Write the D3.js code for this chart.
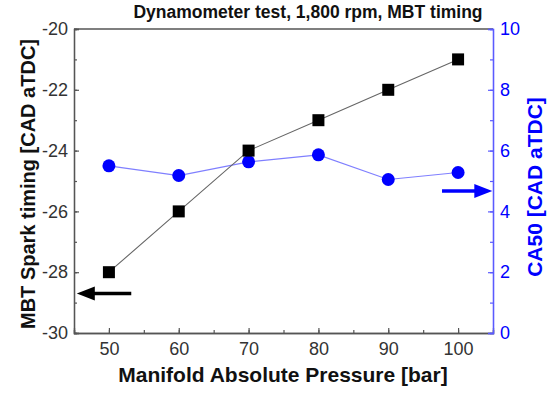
<!DOCTYPE html>
<html>
<head>
<meta charset="utf-8">
<script src="https://cdn.jsdelivr.net/npm/d3@7"></script>
<style>
  body { margin: 0; background: #fff; }
  svg { font-family: "Liberation Sans", Arial, sans-serif; }
</style>
</head>
<body>
<div id="chart"></div>
<script>
// Dynamometer test: MBT spark timing and CA50 vs manifold pressure

const pressure = [50, 60, 70, 80, 90, 100];
const sparkTiming = [-28, -26, -24, -23, -22, -21];
const ca50 = [5.5, 5.18, 5.63, 5.86, 5.05, 5.28];

const xTicks = [50, 60, 70, 80, 90, 100];
const leftTicks = [-30, -28, -26, -24, -22, -20];
const rightTicks = [0, 2, 4, 6, 8, 10];

const chartWidth = 550;
const chartHeight = 393;
var margin = {top: 29, right: 57, bottom: 60, left: 74},
width = chartWidth - margin.left - margin.right,
height = chartHeight - margin.top - margin.bottom;

const blue = "#0000ff";
const axisBlue = "#5a5aff";

var svg = d3.select("#chart")
  .append("svg")
    .attr("width", chartWidth)
    .attr("height", chartHeight)
  .append("g")
    .attr("transform", "translate(" + margin.left + "," + margin.top + ")");

var x = d3.scaleLinear().domain([45, 105]).range([0, width]);
var yL = d3.scaleLinear().domain([-30, -20]).range([height, 0]);
var yR = d3.scaleLinear().domain([0, 10]).range([height, 0]);

// minor ticks first, then major ones
function styleAxis(g, color) {
  g.select(".domain").attr("stroke", color).attr("stroke-width", 1.3);
  g.selectAll(".tick line").attr("stroke", color).attr("stroke-width", 1.2);
  g.selectAll(".tick text")
    .attr("fill", color)
    .style("font-size", "18px");
}

// bottom axis
svg.append("g")
  .attr("transform", "translate(0," + height + ")")
  .call(d3.axisBottom(x).tickValues(d3.range(45, 106, 5)).tickSize(-3).tickFormat(""))
  .call(g => styleAxis(g, "#555"));
svg.append("g")
  .attr("transform", "translate(0," + height + ")")
  .call(d3.axisBottom(x).tickValues(xTicks).tickSize(-5).tickPadding(9))
  .call(g => styleAxis(g, "#555"))
  .call(g => g.selectAll(".tick text").attr("fill", "#333"));

// left axis
svg.append("g")
  .call(d3.axisLeft(yL).tickValues(d3.range(-30, -19, 1)).tickSize(-3).tickFormat(""))
  .call(g => styleAxis(g, "#555"));
svg.append("g")
  .call(d3.axisLeft(yL).tickValues(leftTicks).tickSize(-5).tickPadding(6).tickFormat(d => d))
  .call(g => styleAxis(g, "#555"))
  .call(g => g.selectAll(".tick text").attr("fill", "#333"));

// top frame line
svg.append("line")
  .attr("x1", 0).attr("x2", width)
  .attr("y1", 0).attr("y2", 0)
  .attr("stroke", "#555").attr("stroke-width", 1.3);

// right axis
svg.append("g")
  .attr("transform", "translate(" + width + ",0)")
  .call(d3.axisRight(yR).tickValues(d3.range(0, 11, 1)).tickSize(-3).tickFormat(""))
  .call(g => styleAxis(g, axisBlue));
svg.append("g")
  .attr("transform", "translate(" + width + ",0)")
  .call(d3.axisRight(yR).tickValues(rightTicks).tickSize(-5).tickPadding(7))
  .call(g => styleAxis(g, axisBlue))
  .call(g => g.selectAll(".tick text").attr("fill", blue));

// CA50 series
svg.append("path")
  .datum(pressure)
  .attr("fill", "none")
  .attr("stroke", "#7f7fff")
  .attr("stroke-width", 1.2)
  .attr("d", d3.line().x(d => x(d)).y((d, i) => yR(ca50[i])));

svg.selectAll("circ")
  .data(pressure)
  .enter()
  .append("circle")
    .attr("cx", d => x(d))
    .attr("cy", (d, i) => yR(ca50[i]))
    .attr("r", 6.5)
    .style("fill", blue);

// spark timing series
svg.append("path")
  .datum(pressure)
  .attr("fill", "none")
  .attr("stroke", "#666")
  .attr("stroke-width", 1.1)
  .attr("d", d3.line().x(d => x(d)).y((d, i) => yL(sparkTiming[i])));

var sq = 12;
svg.selectAll("squares")
  .data(pressure)
  .enter()
  .append("rect")
    .attr("x", d => x(d) - sq / 2)
    .attr("y", (d, i) => yL(sparkTiming[i]) - sq / 2)
    .attr("width", sq)
    .attr("height", sq)
    .style("fill", "#000");

// arrows pointing at the axis each series belongs to
function arrow(x1, x2, yy, color) {
  var dir = x2 > x1 ? 1 : -1;
  var headLen = 18, headW = 7;
  svg.append("line")
    .attr("x1", x1).attr("x2", x2 - dir * headLen + dir * 2)
    .attr("y1", yy).attr("y2", yy)
    .attr("stroke", color).attr("stroke-width", 3.5);
  svg.append("path")
    .attr("d", "M" + x2 + "," + yy +
      " L" + (x2 - dir * headLen) + "," + (yy - headW) +
      " L" + (x2 - dir * headLen) + "," + (yy + headW) + " Z")
    .attr("fill", color);
}
arrow(x(53.2), x(45.4), yL(-28.7), "#000");
arrow(x(97.7), x(104.9), yR(4.67), blue);

// title and axis titles
svg.append("text")
  .attr("x", 234)
  .attr("y", -11)
  .attr("text-anchor", "middle")
  .style("font-size", "17.5px")
  .style("font-weight", "bold")
  .attr("fill", "#111")
  .text("Dynamometer test, 1,800 rpm, MBT timing");

svg.append("text")
  .attr("x", 283 - margin.left)
  .attr("y", height + 49)
  .attr("text-anchor", "middle")
  .style("font-size", "21px")
  .style("font-weight", "bold")
  .attr("fill", "#111")
  .text("Manifold Absolute Pressure [bar]");

svg.append("text")
  .attr("transform", "translate(" + (35 - margin.left) + "," + (184 - margin.top) + ") rotate(-90)")
  .attr("text-anchor", "middle")
  .style("font-size", "20px")
  .style("font-weight", "bold")
  .attr("fill", "#111")
  .text("MBT Spark timing [CAD aTDC]");

svg.append("text")
  .attr("transform", "translate(" + (542 - margin.left) + "," + (187 - margin.top) + ") rotate(-90)")
  .attr("text-anchor", "middle")
  .style("font-size", "21px")
  .style("font-weight", "bold")
  .attr("fill", blue)
  .text("CA50 [CAD aTDC]");
</script>
</body>
</html>
